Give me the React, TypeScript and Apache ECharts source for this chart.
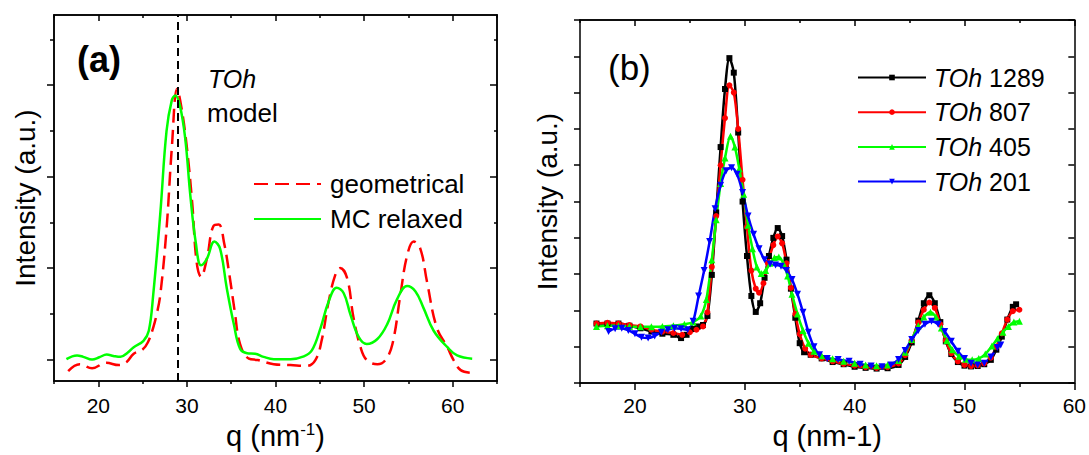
import React, { useEffect, useRef } from "react";
import * as echarts from "echarts";

const FONT = '"Liberation Sans", Arial, Helvetica, sans-serif';

// ---------- Panel (a): TOh model ----------
const geoQ = [16.6, 17.9, 19.3, 20.9, 22.3, 23.2, 24.0, 25.0, 25.6, 26.2, 26.6, 27.0, 27.7, 28.3, 28.9, 29.4, 30.0, 30.6, 31.1, 31.6, 32.25, 33.0, 33.6, 34.2, 34.8, 35.4, 36.0, 37.0, 38.0, 39.8, 41.7, 43.5, 44.5, 45.2, 46.0, 46.75, 47.3, 48.1, 48.8, 49.6, 50.3, 51.5, 52.4, 53.2, 54.1, 54.85, 55.6, 56.35, 57.1, 58.2, 59.4, 60.1, 60.9, 62.2];
const geoI = [-0.25, -0.1, -0.19, -0.07, -0.12, -0.05, 0.13, 0.22, 0.38, 0.7, 1.0, 1.42, 2.85, 4.63, 5.92, 5.49, 4.63, 3.42, 2.13, 1.81, 2.2, 2.92, 2.95, 2.55, 1.85, 1.05, 0.34, 0.02, -0.01, -0.1, -0.12, -0.14, -0.01, 0.41, 1.27, 1.85, 2.0, 1.77, 0.92, 0.27, -0.01, -0.1, -0.01, 0.34, 1.42, 2.27, 2.58, 2.42, 1.7, 0.7, 0.27, -0.01, -0.23, -0.29];
const mcQ = [16.4, 17.6, 18.3, 19.3, 20.1, 20.95, 21.7, 22.5, 23.3, 24.0, 25.1, 25.7, 26.2, 27.0, 27.7, 28.3, 28.7, 29.2, 29.8, 30.4, 31.0, 31.6, 32.25, 33.1, 33.75, 34.5, 35.3, 36.0, 36.8, 37.7, 38.65, 39.8, 41.7, 43.2, 44.1, 45.1, 46.0, 46.9, 47.7, 48.45, 49.4, 50.3, 51.5, 52.6, 53.7, 54.85, 55.8, 56.7, 57.85, 59.4, 60.5, 62.2];
const mcI = [0.01, 0.09, 0.06, 0.0, 0.05, 0.11, 0.08, 0.06, 0.15, 0.27, 0.41, 0.63, 1.42, 3.2, 4.99, 5.67, 5.77, 5.56, 4.85, 3.56, 2.56, 2.06, 2.2, 2.58, 2.42, 1.56, 0.77, 0.24, 0.14, 0.13, 0.06, 0.01, 0.01, 0.07, 0.2, 0.7, 1.27, 1.57, 1.45, 0.99, 0.49, 0.34, 0.45, 0.77, 1.31, 1.61, 1.49, 1.13, 0.63, 0.27, 0.09, 0.02];
const markerQ = 29.0;

// ---------- Panel (b): TOh sizes ----------
const t1289Q = [16.5, 17.5, 18.5, 19.5, 20.5, 21.5, 22.5, 23.5, 24.2, 24.7, 25.2, 25.7, 26.2, 26.6, 27.0, 27.4, 27.8, 28.2, 28.6, 29.0, 29.4, 29.8, 30.2, 30.6, 31.0, 31.4, 31.8, 32.2, 32.6, 33.0, 33.4, 33.8, 34.2, 34.6, 35.0, 35.4, 36.0, 37.0, 38.0, 39.0, 40.0, 41.0, 42.0, 43.0, 44.0, 44.6, 45.2, 45.8, 46.3, 46.8, 47.3, 47.8, 48.3, 48.8, 49.4, 50.0, 50.6, 51.2, 51.8, 52.4, 52.9, 53.4, 53.9, 54.4, 54.7];
const t1289I = [1.64, 1.64, 1.64, 1.58, 1.51, 1.42, 1.36, 1.33, 1.24, 1.33, 1.49, 1.56, 1.6, 1.85, 2.98, 4.7, 6.5, 8.1, 8.95, 8.55, 6.9, 5.0, 3.5, 2.4, 1.96, 2.2, 2.9, 3.5, 4.0, 4.27, 4.05, 3.4, 2.6, 1.8, 1.1, 0.85, 0.78, 0.68, 0.58, 0.52, 0.45, 0.42, 0.4, 0.41, 0.5, 0.72, 1.12, 1.72, 2.2, 2.42, 2.2, 1.68, 1.15, 0.8, 0.58, 0.48, 0.46, 0.47, 0.52, 0.64, 0.92, 1.28, 1.75, 2.1, 2.17];
const t807Q = [16.5, 17.5, 18.5, 19.5, 20.5, 21.5, 22.5, 23.5, 24.3, 25.0, 25.6, 26.2, 26.6, 27.0, 27.4, 27.8, 28.2, 28.6, 29.0, 29.4, 29.8, 30.2, 30.6, 31.0, 31.3, 31.7, 32.1, 32.6, 33.0, 33.4, 33.8, 34.2, 34.6, 35.0, 35.5, 36.0, 37.0, 38.0, 39.0, 40.0, 41.0, 42.0, 43.0, 44.0, 44.6, 45.2, 45.8, 46.3, 46.8, 47.3, 47.8, 48.3, 48.8, 49.4, 50.0, 50.6, 51.2, 51.8, 52.4, 52.9, 53.4, 53.9, 54.4, 55.0];
const t807I = [1.64, 1.66, 1.64, 1.6, 1.56, 1.47, 1.42, 1.38, 1.33, 1.4, 1.47, 1.56, 1.95, 3.2, 4.6, 6.0, 7.3, 8.2, 8.0, 7.0, 5.6, 4.3, 3.1, 2.6, 2.49, 2.75, 3.3, 3.8, 4.04, 3.85, 3.3, 2.62, 1.9, 1.35, 0.95, 0.78, 0.68, 0.6, 0.53, 0.48, 0.44, 0.42, 0.44, 0.54, 0.77, 1.17, 1.67, 2.02, 2.22, 2.07, 1.62, 1.17, 0.82, 0.6, 0.5, 0.47, 0.49, 0.54, 0.7, 1.0, 1.37, 1.75, 1.98, 2.02];
const t405Q = [16.5, 17.5, 18.5, 19.5, 20.5, 21.5, 22.5, 23.5, 24.5, 25.3, 26.0, 26.5, 27.0, 27.4, 27.8, 28.2, 28.7, 29.1, 29.5, 29.9, 30.3, 30.7, 31.1, 31.5, 31.9, 32.3, 32.7, 33.1, 33.5, 33.9, 34.3, 34.8, 35.3, 35.8, 36.3, 37.0, 38.0, 39.0, 40.0, 41.0, 42.0, 43.0, 44.0, 44.6, 45.2, 45.8, 46.3, 46.9, 47.4, 47.9, 48.4, 48.9, 49.5, 50.1, 50.7, 51.3, 51.9, 52.5, 53.0, 53.5, 54.0, 54.5, 55.0];
const t405I = [1.56, 1.58, 1.58, 1.56, 1.55, 1.55, 1.56, 1.58, 1.62, 1.68, 1.85, 2.3, 3.4, 4.5, 5.5, 6.2, 6.8, 6.5, 5.9, 5.2, 4.35, 3.7, 3.2, 3.02, 3.1, 3.3, 3.45, 3.47, 3.3, 2.95, 2.45, 1.9, 1.45, 1.1, 0.88, 0.75, 0.67, 0.6, 0.55, 0.5, 0.48, 0.5, 0.62, 0.85, 1.2, 1.58, 1.82, 1.95, 1.82, 1.52, 1.17, 0.92, 0.74, 0.66, 0.64, 0.68, 0.8, 1.02, 1.22, 1.4, 1.56, 1.68, 1.7];
const t201Q = [17.6, 18.2, 18.8, 19.4, 20.0, 20.6, 21.2, 21.8, 22.4, 23.0, 23.6, 24.2, 24.8, 25.3, 25.8, 26.3, 26.8, 27.3, 27.8, 28.3, 28.8, 29.3, 29.8, 30.3, 30.8, 31.3, 31.8, 32.3, 32.8, 33.3, 33.8, 34.3, 34.8, 35.3, 35.8, 36.3, 36.8, 37.5, 38.5, 39.5, 40.5, 41.5, 42.5, 43.3, 44.0, 44.6, 45.2, 45.8, 46.4, 47.0, 47.6, 48.2, 48.8, 49.4, 50.0, 50.6, 51.2, 51.8, 52.4, 53.0, 53.3];
const t201I = [1.42, 1.5, 1.51, 1.45, 1.36, 1.26, 1.24, 1.3, 1.4, 1.47, 1.51, 1.5, 1.47, 1.7, 2.4, 3.1, 3.9, 4.8, 5.45, 5.85, 5.93, 5.75, 5.25, 4.6, 4.1, 3.7, 3.4, 3.28, 3.25, 3.22, 3.1, 2.85, 2.45, 1.95, 1.4, 1.0, 0.78, 0.68, 0.65, 0.6, 0.52, 0.47, 0.45, 0.5, 0.65, 0.9, 1.2, 1.45, 1.62, 1.7, 1.62, 1.42, 1.15, 0.88, 0.68, 0.55, 0.5, 0.55, 0.72, 0.98, 1.05];

// ---------- Axis ticks ----------
const xMajor = [20, 30, 40, 50, 60];
const xMinorA = [15, 25, 35, 45, 55, 65];
const xMinorB = [15, 25, 35, 45, 55];
const yMajorA = [0, 2, 4, 6];
const yMinorA = [1, 3, 5, 7];
const yTicksB = [0, 1, 2, 3, 4, 5, 6, 7, 8, 9, 10];

const zip = (q: number[], v: number[]) => q.map((x, i) => [x, v[i]]);

const AX = { color: "#000", width: 1.5 };

function xAx(grid: number, pos: string, ticks: number[], len: number, inside: boolean, labels: boolean, min: number, max: number, extra: any = {}) {
  return {
    type: "value", gridIndex: grid, position: pos, min, max,
    axisLine: { show: true, onZero: false, lineStyle: AX },
    axisTick: { show: true, inside, length: len, customValues: ticks, lineStyle: AX },
    axisLabel: { show: labels, customValues: ticks, color: "#000", fontSize: 21, fontFamily: FONT, margin: 14 },
    splitLine: { show: false },
    ...extra,
  };
}
function yAx(grid: number, pos: string, ticks: number[], len: number, inside: boolean, min: number, max: number, extra: any = {}) {
  return {
    type: "value", gridIndex: grid, position: pos, min, max,
    axisLine: { show: true, onZero: false, lineStyle: AX },
    axisTick: { show: true, inside, length: len, customValues: ticks, lineStyle: AX },
    axisLabel: { show: false },
    splitLine: { show: false },
    ...extra,
  };
}

const yNameStyle = { color: "#000", fontSize: 28, fontFamily: FONT };

export default function App() {
  const ref = useRef<HTMLDivElement>(null);
  useEffect(() => {
    if (!ref.current) return;
    const chart = echarts.init(ref.current, undefined, { renderer: "svg" });
    const yAmin = -0.47, yAmax = 7.53;
    const option: any = {
      animation: false,
      backgroundColor: "#fff",
      textStyle: { fontFamily: FONT },
      grid: [
        { left: 54, top: 15, width: 443, height: 373 },
        { left: 580, top: 20, width: 495, height: 377 },
      ],
      xAxis: [
        xAx(0, "bottom", xMajor, 6, false, true, 15, 65, {
          name: "{n|q (nm}{s|-1}{n|)}",
          nameLocation: "middle",
          nameGap: 35,
          nameTextStyle: {
            rich: {
              n: { fontSize: 29, fontFamily: FONT, color: "#000" },
              s: { fontSize: 17, fontFamily: FONT, color: "#000", verticalAlign: "top" },
            },
          },
        }),
        xAx(0, "bottom", xMinorA, 3, false, false, 15, 65),
        xAx(0, "top", xMajor, 6, true, false, 15, 65),
        xAx(0, "top", xMinorA, 3, true, false, 15, 65),
        xAx(1, "bottom", xMajor, 7, false, true, 15, 60, {
          name: "q (nm-1)",
          nameLocation: "middle",
          nameGap: 30,
          nameTextStyle: { fontSize: 29, fontFamily: FONT, color: "#000" },
          axisLabel: { show: true, customValues: xMajor, color: "#000", fontSize: 21, fontFamily: FONT, margin: 12 },
        }),
        xAx(1, "bottom", xMinorB, 4, false, false, 15, 60),
        xAx(1, "top", xMajor, 6, true, false, 15, 60),
        xAx(1, "top", xMinorB, 3, true, false, 15, 60),
      ],
      yAxis: [
        yAx(0, "left", yMajorA, 7, false, yAmin, yAmax, {
          name: "Intensity (a.u.)", nameLocation: "middle", nameGap: 15, nameRotate: 90, nameTextStyle: yNameStyle,
        }),
        yAx(0, "left", yMinorA, 4, false, yAmin, yAmax),
        yAx(0, "right", yMajorA, 7, true, yAmin, yAmax),
        yAx(0, "right", yMinorA, 3, true, yAmin, yAmax),
        yAx(1, "left", yTicksB, 6, false, 0, 10, {
          name: "Intensity (a.u.)", nameLocation: "middle", nameGap: 19, nameRotate: 90, nameTextStyle: yNameStyle,
        }),
        yAx(1, "right", yTicksB, 6, true, 0, 10),
      ],
      legend: [
        {
          data: ["geometrical", "MC relaxed"],
          orient: "vertical", left: 248, top: 166,
          itemWidth: 67, itemHeight: 2, itemGap: 9,
          textStyle: { fontSize: 26, lineHeight: 26, color: "#000", fontFamily: FONT, padding: [0, 0, 0, 4] },
        },
        {
          data: ["TOh 1289", "TOh 807", "TOh 405", "TOh 201"],
          orient: "vertical", left: 852, top: 60,
          itemWidth: 68, itemHeight: 7, itemGap: 9.7,
          formatter: (n: string) => `{i|TOh} ${n.split(" ")[1]}`,
          textStyle: {
            fontSize: 25, lineHeight: 25, color: "#000", fontFamily: FONT, padding: [0, 0, 0, 3],
            rich: { i: { fontSize: 25, fontStyle: "italic", fontFamily: FONT, color: "#000" } },
          },
        },
      ],
      graphic: [
        { type: "text", left: 77, top: 41, style: { text: "(a)", font: `bold 36px ${FONT}`, fill: "#000" } },
        { type: "text", left: 208, top: 66, style: { text: "TOh", font: `italic 25px ${FONT}`, fill: "#000" } },
        { type: "text", left: 207, top: 100, style: { text: "model", font: `26px ${FONT}`, fill: "#000" } },
        { type: "text", left: 608, top: 50, style: { text: "(b)", font: `35px ${FONT}`, fill: "#000" } },
      ],
      series: [
        {
          name: "geometrical", type: "line", xAxisIndex: 0, yAxisIndex: 0, smooth: 0.4,
          data: zip(geoQ, geoI), symbol: "none", color: "#ff0000",
          lineStyle: { color: "#ff0000", width: 2.5, type: [14, 7] },
          markLine: {
            silent: true, symbol: "none", label: { show: false },
            lineStyle: { color: "#000", width: 2, type: [8, 5] },
            data: [{ xAxis: markerQ }],
          },
        },
        {
          name: "MC relaxed", type: "line", xAxisIndex: 0, yAxisIndex: 0, smooth: 0.4,
          data: zip(mcQ, mcI), symbol: "none", color: "#00ff00",
          lineStyle: { color: "#00ff00", width: 2.5 },
        },
        {
          name: "TOh 1289", type: "line", xAxisIndex: 4, yAxisIndex: 4, smooth: 0.3,
          data: zip(t1289Q, t1289I), symbol: "rect", symbolSize: 6, color: "#000000",
          lineStyle: { width: 2.5 },
        },
        {
          name: "TOh 807", type: "line", xAxisIndex: 4, yAxisIndex: 4, smooth: 0.3,
          data: zip(t807Q, t807I), symbol: "circle", symbolSize: 6, color: "#ff0000",
          lineStyle: { width: 2.5 },
        },
        {
          name: "TOh 405", type: "line", xAxisIndex: 4, yAxisIndex: 4, smooth: 0.3,
          data: zip(t405Q, t405I), symbol: "triangle", symbolSize: 7, color: "#00ff00",
          lineStyle: { width: 2.5 },
        },
        {
          name: "TOh 201", type: "line", xAxisIndex: 4, yAxisIndex: 4, smooth: 0.3,
          data: zip(t201Q, t201I), symbol: "triangle", symbolRotate: 180, symbolSize: 7, color: "#0000ff",
          lineStyle: { width: 2.5 },
        },
      ],
    };
    chart.setOption(option);
    return () => chart.dispose();
  }, []);
  return <div ref={ref} style={{ position: "fixed", left: 0, top: 0, width: 1089, height: 455, background: "#fff" }} />;
}
